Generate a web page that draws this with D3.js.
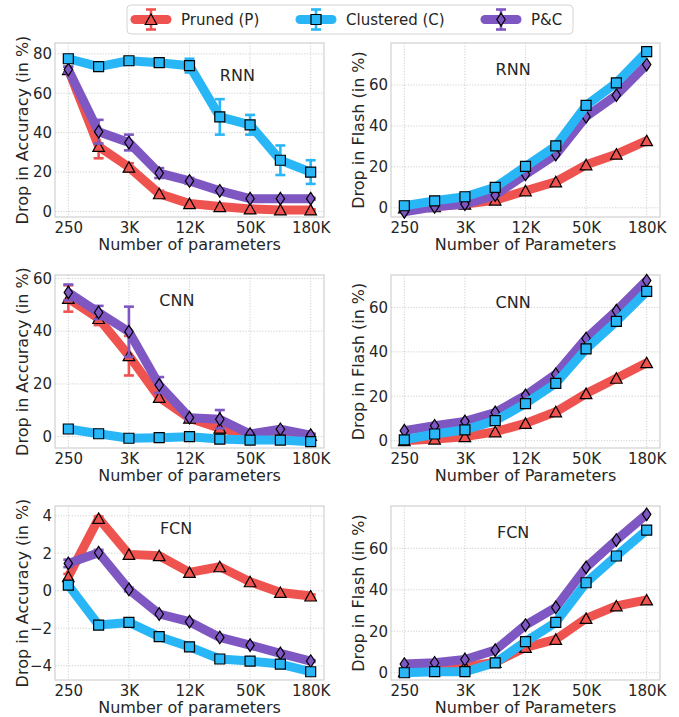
<!DOCTYPE html>
<html lang="en">
<head>
<meta charset="utf-8">
<script src="https://cdn.jsdelivr.net/npm/d3@7"></script>
<style>
    body { margin: 0; background: #fff; font-family: 'DejaVu Sans', sans-serif; }
    text { fill: #262626; }
    .tick text { font-size: 15px; font-family: 'DejaVu Sans', sans-serif; fill: #262626; }
    .axis-label { font-size: 16px; text-anchor: middle; }
    .panel-title { font-size: 16px; text-anchor: middle; }
    .legend-text { font-size: 15px; }
    .grid line { stroke: #c4c4c4; stroke-width: 0.8; stroke-dasharray: 1.2, 1.6; }
    .frame { fill: none; stroke: #d4d4d4; stroke-width: 1.3; }
</style>
</head>
<body>
<script>
    // categories (9 model sizes), only every other one labelled
    var sizeIndex = [0, 1, 2, 3, 4, 5, 6, 7, 8];
    var tickIndex = [0, 2, 4, 6, 8];
    var tickLabels = ["250", "3K", "12K", "50K", "180K"];
    var seriesNames = ["Pruned (P)", "Clustered (C)", "P&C"];

    // RNN - drop in accuracy
    var rnnAccP = [72, 33, 22.5, 9, 4, 2.5, 1.3, 0.8, 0.8];
    var rnnAccPErr = [1.5, 6, 2, 1.5, 1, 0.5, 0.5, 0.3, 0.3];
    var rnnAccC = [77.5, 73.5, 76.5, 75.5, 74, 48, 44, 26, 20];
    var rnnAccCErr = [1.5, 1, 1, 1, 3.5, 9, 5, 7.5, 6];
    var rnnAccPC = [72, 40.5, 35, 19.5, 15.5, 10.5, 6.5, 6.5, 6.5];
    var rnnAccPCErr = [1.5, 6, 4, 2.5, 1.5, 1, 0.5, 0.5, 0.5];

    // RNN - drop in flash
    var rnnFlashP = [0, 0.5, 1.8, 3.7, 8.3, 12.7, 21, 26.2, 32.8];
    var rnnFlashC = [1, 3.4, 5.4, 10, 20.2, 30.2, 50, 61, 76.3];
    var rnnFlashPC = [-2, 0.5, 1.8, 6.2, 16.3, 26, 44.5, 55, 70];

    // CNN - drop in accuracy
    var cnnAccP = [52.4, 44.8, 30.7, 14.9, 7, 3.2, 0.3, 0.8, 0.5];
    var cnnAccPErr = [5, 2.5, 7.5, 1.5, 1, 1, 0.5, 0.5, 0.5];
    var cnnAccC = [2.9, 1.1, -0.6, -0.4, 0, -0.9, -1.3, -1.3, -1.9];
    var cnnAccCErr = [0.3, 0.3, 0.3, 0.3, 0.3, 0.3, 0.3, 0.3, 0.3];
    var cnnAccPC = [54.7, 47.1, 39.8, 19.6, 7.2, 6.6, 1.0, 2.8, 0.6];
    var cnnAccPCErr = [3, 2.5, 9.5, 3, 1, 3.5, 0.5, 0.5, 0.5];

    // CNN - drop in flash
    var cnnFlashP = [0, 0.7, 1.8, 4, 7.8, 13, 21.2, 28.1, 35.1];
    var cnnFlashC = [0.4, 3, 4.9, 9, 16.7, 25.8, 41.3, 53.7, 67.2];
    var cnnFlashPC = [4.5, 6.7, 8.7, 12.7, 20.4, 29.9, 46, 58.5, 72.1];

    // FCN - drop in accuracy
    var fcnAccP = [0.75, 3.86, 1.94, 1.87, 0.98, 1.28, 0.48, -0.09, -0.28];
    var fcnAccPErr = [0.15, 0.1, 0.05, 0.05, 0.05, 0.05, 0.05, 0.05, 0.08];
    var fcnAccC = [0.3, -1.83, -1.69, -2.45, -2.99, -3.64, -3.75, -3.91, -4.32];
    var fcnAccCErr = [0.05, 0.05, 0.05, 0.05, 0.05, 0.05, 0.05, 0.05, 0.05];
    var fcnAccPC = [1.46, 2.03, 0.07, -1.24, -1.65, -2.49, -2.9, -3.34, -3.75];
    var fcnAccPCErr = [0.2, 0.15, 0.1, 0.05, 0.05, 0.05, 0.05, 0.05, 0.05];

    // FCN - drop in flash
    var fcnFlashP = [0.5, 1, 3, 5, 12.2, 16.1, 26.2, 32.2, 35.1];
    var fcnFlashC = [0, 0.5, 0.5, 4.8, 15, 24.3, 43.4, 56.3, 68.8];
    var fcnFlashPC = [4.2, 4.8, 6.4, 10.9, 23, 31.5, 50.8, 64, 76.4];

    var colors = {P: "#ef5350", C: "#29b6f6", PC: "#7e57c2"};

    var width = 679, height = 717;
    var cols = [{x0: 55, x1: 324}, {x0: 391, x1: 660}];
    var rows = [{y0: 43, y1: 217}, {y0: 275, y1: 448}, {y0: 506, y1: 680}];

    var panels = [
        {row: 0, col: 0, title: "RNN", tx: 0.678, ty: 0.184, yDom: [-2.8, 85.5], yTicks: [0, 20, 40, 60, 80],
         ylab: "Drop in Accuracy (in %)", xlab: "Number of parameters",
         P: rnnAccP, PErr: rnnAccPErr, C: rnnAccC, CErr: rnnAccCErr, PC: rnnAccPC, PCErr: rnnAccPCErr},
        {row: 0, col: 1, title: "RNN", tx: 0.454, ty: 0.15, yDom: [-4.5, 80.5], yTicks: [0, 20, 40, 60],
         ylab: "Drop in Flash (in %)", xlab: "Number of Parameters",
         P: rnnFlashP, C: rnnFlashC, PC: rnnFlashPC},
        {row: 1, col: 0, title: "CNN", tx: 0.453, ty: 0.145, yDom: [-4.3, 61.3], yTicks: [0, 20, 40, 60],
         ylab: "Drop in Accuracy (in %)", xlab: "Number of parameters",
         P: cnnAccP, PErr: cnnAccPErr, C: cnnAccC, CErr: cnnAccCErr, PC: cnnAccPC, PCErr: cnnAccPCErr},
        {row: 1, col: 1, title: "CNN", tx: 0.454, ty: 0.16, yDom: [-3.3, 74.6], yTicks: [0, 20, 40, 60],
         ylab: "Drop in Flash (in %)", xlab: "Number of Parameters",
         P: cnnFlashP, C: cnnFlashC, PC: cnnFlashPC},
        {row: 2, col: 0, title: "FCN", tx: 0.45, ty: 0.13, yDom: [-4.76, 4.52], yTicks: [-4, -2, 0, 2, 4],
         ylab: "Drop in Accuracy (in %)", xlab: "Number of parameters",
         P: fcnAccP, PErr: fcnAccPErr, C: fcnAccC, CErr: fcnAccCErr, PC: fcnAccPC, PCErr: fcnAccPCErr},
        {row: 2, col: 1, title: "FCN", tx: 0.454, ty: 0.15, yDom: [-3.5, 80.4], yTicks: [0, 20, 40, 60],
         ylab: "Drop in Flash (in %)", xlab: "Number of Parameters",
         P: fcnFlashP, C: fcnFlashC, PC: fcnFlashPC}
    ];

    // marker shapes
    var markerPath = {
        P: "M0,-5.5L5.8,5L-5.8,5Z",
        C: "M-5,-5H5V5H-5Z",
        PC: "M0,-6.3L4.2,0L0,6.3L-4.2,0Z"
    };

    var svg = d3.select("body").append("svg")
        .attr("width", width)
        .attr("height", height);

    panels.forEach(function(p) {
        var c = cols[p.col], r = rows[p.row];
        var x = d3.scaleLinear().domain([-0.44, 8.44]).range([c.x0, c.x1]);
        var y = d3.scaleLinear().domain(p.yDom).range([r.y1, r.y0]);
        var g = svg.append("g");

        // grid
        var grid = g.append("g").attr("class", "grid");
        grid.selectAll(".gx").data(tickIndex).enter().append("line")
            .attr("x1", function(d) { return x(d); }).attr("x2", function(d) { return x(d); })
            .attr("y1", r.y0).attr("y2", r.y1);
        grid.selectAll(".gy").data(p.yTicks).enter().append("line")
            .attr("x1", c.x0).attr("x2", c.x1)
            .attr("y1", function(d) { return y(d); }).attr("y2", function(d) { return y(d); });

        g.append("rect").attr("class", "frame")
            .attr("x", c.x0).attr("y", r.y0)
            .attr("width", c.x1 - c.x0).attr("height", r.y1 - r.y0);

        // axes
        g.append("g")
            .attr("transform", "translate(0," + r.y1 + ")")
            .call(d3.axisBottom(x).tickValues(tickIndex)
                .tickFormat(function(d, i) { return tickLabels[i]; })
                .tickSize(0).tickPadding(5))
            .call(function(a) { a.select(".domain").remove(); });
        g.append("g")
            .attr("transform", "translate(" + c.x0 + ",0)")
            .call(d3.axisLeft(y).tickValues(p.yTicks).tickSize(0).tickPadding(3))
            .call(function(a) { a.select(".domain").remove(); });

        g.append("text").attr("class", "axis-label")
            .attr("x", (c.x0 + c.x1) / 2).attr("y", r.y1 + 33)
            .text(p.xlab);
        var lx = p.col === 0 ? 22 : 358;
        g.append("text").attr("class", "axis-label")
            .attr("transform", "translate(" + lx + "," + (r.y0 + r.y1) / 2 + ") rotate(-90)")
            .attr("dy", "0.35em")
            .text(p.ylab);

        g.append("text").attr("class", "panel-title")
            .attr("x", c.x0 + p.tx * (c.x1 - c.x0))
            .attr("y", r.y0 + p.ty * (r.y1 - r.y0))
            .attr("dy", "0.35em")
            .text(p.title);

        // series: drawn P, P&C, C (C ends up on top)
        var line = d3.line()
            .x(function(d, i) { return x(sizeIndex[i]); })
            .y(function(d) { return y(d); });

        ["P", "PC", "C"].forEach(function(k) {
            var vals = p[k], errs = p[k + "Err"];
            var s = g.append("g");
            s.append("path")
                .attr("d", line(vals))
                .attr("fill", "none")
                .attr("stroke", colors[k])
                .attr("stroke-width", 9)
                .attr("stroke-linejoin", "round");
            if (errs) {
                var eb = s.selectAll(".eb").data(vals).enter().append("g")
                    .attr("stroke", colors[k]).attr("stroke-width", 2.6);
                eb.append("line")
                    .attr("x1", function(d, i) { return x(i); }).attr("x2", function(d, i) { return x(i); })
                    .attr("y1", function(d, i) { return y(d - errs[i]); })
                    .attr("y2", function(d, i) { return y(d + errs[i]); });
                eb.append("line")
                    .attr("x1", function(d, i) { return x(i) - 5; }).attr("x2", function(d, i) { return x(i) + 5; })
                    .attr("y1", function(d, i) { return y(d - errs[i]); })
                    .attr("y2", function(d, i) { return y(d - errs[i]); });
                eb.append("line")
                    .attr("x1", function(d, i) { return x(i) - 5; }).attr("x2", function(d, i) { return x(i) + 5; })
                    .attr("y1", function(d, i) { return y(d + errs[i]); })
                    .attr("y2", function(d, i) { return y(d + errs[i]); });
            }
            s.selectAll(".mk").data(vals).enter().append("path")
                .attr("d", markerPath[k])
                .attr("transform", function(d, i) { return "translate(" + x(i) + "," + y(d) + ")"; })
                .attr("fill", colors[k])
                .attr("stroke", "#000")
                .attr("stroke-width", 1.2);
        });
    });

    // legend
    var leg = svg.append("g");
    leg.append("rect")
        .attr("x", 127).attr("y", 5).attr("width", 446).attr("height", 29).attr("rx", 4)
        .attr("fill", "#fff").attr("stroke", "#d4d4d4").attr("stroke-width", 1);
    var legX = [131, 296, 481];
    ["P", "C", "PC"].forEach(function(k, i) {
        var hx = legX[i], cy = 19.5;
        var it = leg.append("g");
        it.append("line").attr("x1", hx + 4).attr("x2", hx + 36).attr("y1", cy).attr("y2", cy)
            .attr("stroke", colors[k]).attr("stroke-width", 9).attr("stroke-linecap", "round");
        it.append("line").attr("x1", hx + 20).attr("x2", hx + 20).attr("y1", cy - 10).attr("y2", cy + 10)
            .attr("stroke", colors[k]).attr("stroke-width", 2.6);
        [cy - 10, cy + 10].forEach(function(yy) {
            it.append("line").attr("x1", hx + 15).attr("x2", hx + 25).attr("y1", yy).attr("y2", yy)
                .attr("stroke", colors[k]).attr("stroke-width", 2.6);
        });
        it.append("path").attr("d", markerPath[k])
            .attr("transform", "translate(" + (hx + 20) + "," + cy + ")")
            .attr("fill", colors[k]).attr("stroke", "#000").attr("stroke-width", 1.2);
        it.append("text").attr("class", "legend-text")
            .attr("x", hx + 50).attr("y", cy).attr("dy", "0.35em")
            .text(seriesNames[i]);
    });
</script>
</body>
</html>
